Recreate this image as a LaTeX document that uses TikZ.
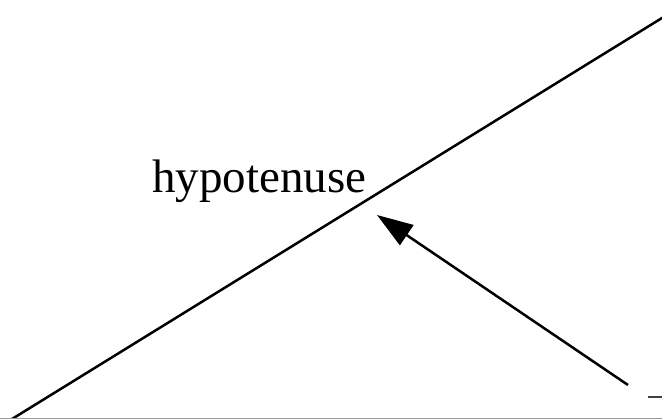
\documentclass[tikz,border=0pt]{standalone}
\usepackage{fontspec}
\setmainfont{Liberation Serif}
\usetikzlibrary{arrows.meta,calc}
\tikzset{
  edge/.style={line width=2.5pt,black},
  ptr/.style={line width=2.5pt,black,-{Triangle[length=36pt,width=24pt]}},
  lbl/.style={font=\fontsize{47}{56}\selectfont,inner sep=0pt,anchor=base west},
  rim/.style={line width=1pt,black!40},
}
\begin{document}
\begin{tikzpicture}[x=1pt,y=-1pt]
  \useasboundingbox (0,0) rectangle (662,419);
  \clip (0,0) rectangle (662,419);
  \coordinate (hypLow)  at (12,419);
  \coordinate (hypHigh) at (662,18);
  \draw[edge] ($(hypLow)!-0.05!(hypHigh)$) -- ($(hypHigh)!-0.05!(hypLow)$);
  \node[lbl] (hypLabel) at (152,193) {hypotenuse};
  \coordinate (ptrTail) at (628,385);
  \coordinate (ptrHead) at (377,215);
  \draw[ptr] (ptrTail) -- (ptrHead);
  \coordinate (dashL) at (648,397);
  \coordinate (dashR) at (662,397);
  \draw[line width=2.5pt,black!75] (dashL) -- (dashR);
  \draw[rim] (0,418.5) -- (662,418.5);
\end{tikzpicture}
\end{document}
